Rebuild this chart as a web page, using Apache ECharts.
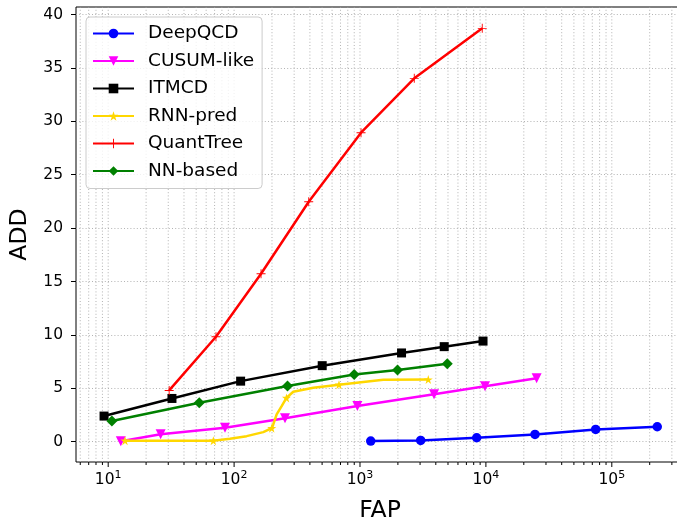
<!DOCTYPE html>
<html>
<head>
<meta charset="utf-8">
<script src="https://cdn.jsdelivr.net/npm/echarts@6/dist/echarts.min.js"></script>
<style>
  html, body { margin: 0; padding: 0; background: #fff; }
  #chart { width: 677px; height: 522px; }
</style>
</head>
<body>
<div id="chart"></div>
<script>
// values (x = FAP, y = ADD)
var deepX = [1217, 3034, 8451, 24550, 74460, 229600];
var deepY = [0.06, 0.12, 0.37, 0.68, 1.15, 1.40];

var cusumX = [12.6, 26.1, 84.7, 253.6, 953, 3873, 9840, 25300];
var cusumY = [0.05, 0.7, 1.3, 2.2, 3.35, 4.45, 5.2, 5.95];

var itmX = [9.27, 32.1, 112.7, 501, 2138, 4666, 9488];
var itmY = [2.40, 4.05, 5.67, 7.12, 8.31, 8.90, 9.42];

// RNN-pred: the line passes through unmarked points too
var rnnX = [13.6, 68.4, 92.7, 125.8, 170.6, 199, 204.8, 217.8, 238.7, 260.6, 295.1, 425.6, 681, 1531, 3486];
var rnnY = [0.1, 0.1, 0.28, 0.52, 0.9, 1.27, 1.62, 2.56, 3.33, 4.1, 4.68, 5.06, 5.34, 5.79, 5.83];
var rnnMarked = [1, 1, 0, 0, 0, 1, 0, 0, 0, 1, 0, 0, 1, 0, 1];

var quantX = [30.5, 71.8, 163.7, 391.5, 1019, 2698, 9354];
var quantY = [4.80, 9.83, 15.73, 22.47, 28.93, 34.02, 38.70];

var nnX = [10.7, 52.9, 265.5, 899, 1986, 4932];
var nnY = [1.93, 3.65, 5.21, 6.30, 6.72, 7.30];

// axis ticks
var yTicks = [0, 5, 10, 15, 20, 25, 30, 35, 40];
var xMajor = [10, 100, 1000, 10000, 100000];
var minorMult = [2, 3, 4, 5, 6, 7, 8, 9];
var xMin = 5.55, xMax = 374500;
var yMin = -1.9, yMax = 40.7;

var FONT = 'DejaVu Sans';

function pairs(xs, ys) {
    return xs.map(function (x, i) { return [x, ys[i]]; });
}

// major + minor x ticks (log axis)
var xTickData = [];
xMajor.forEach(function (v) { xTickData.push([v, 1]); });
[1, 10, 100, 1000, 10000, 100000].forEach(function (d) {
    minorMult.forEach(function (m) {
        var v = m * d;
        if (v > xMin && v < xMax) xTickData.push([v, 0]);
    });
});

var starPath = 'path://M0,-1L0.2245,-0.309L0.951,-0.309L0.363,0.118L0.588,0.809L0,0.382L-0.588,0.809L-0.363,0.118L-0.951,-0.309L-0.2245,-0.309Z';
var plusPath = 'path://M-0.1,-1H0.1V-0.1H1V0.1H0.1V1H-0.1V0.1H-1V-0.1H-0.1Z';
var downTri = 'path://M-1,-0.9L1,-0.9L0,0.9Z';

function lineSeries(name, color, data, symbol, size) {
    return {
        name: name,
        type: 'line',
        data: data,
        symbol: symbol,
        symbolSize: size,
        showSymbol: true,
        color: color,
        lineStyle: { width: 2.5, color: color },
        itemStyle: { color: color },
        z: 3,
        animation: false
    };
}

var rnnData = rnnX.map(function (x, i) {
    return rnnMarked[i] ? [x, rnnY[i]] : { value: [x, rnnY[i]], symbol: 'none' };
});

var chart = echarts.init(document.getElementById('chart'));
chart.setOption({
    backgroundColor: '#fff',
    animation: false,
    grid: {
        left: 76, right: -7, top: 7, bottom: 60,
        outerBoundsMode: 'none',
        containLabel: false,
        show: true, borderColor: '#000', borderWidth: 1,
        backgroundColor: 'transparent'
    },
    legend: {
        data: ['DeepQCD', 'CUSUM-like', 'ITMCD', 'RNN-pred', 'QuantTree', 'NN-based'],
        orient: 'vertical',
        left: 86, top: 17,
        padding: [7, 8, 8, 6],
        itemWidth: 41, itemHeight: 12, itemGap: 8.5,
        backgroundColor: 'rgba(255,255,255,0.8)',
        borderColor: '#cccccc', borderWidth: 1, borderRadius: 4,
        textStyle: { fontFamily: FONT, fontSize: 18.5, color: '#000', lineHeight: 18, padding: [0, 0, 0, 9] }
    },
    xAxis: {
        type: 'log',
        logBase: 10,
        min: xMin, max: xMax,
        name: 'FAP',
        nameLocation: 'middle',
        nameGap: 37,
        nameTextStyle: { fontFamily: FONT, fontSize: 23.5, color: '#000' },
        axisLine: { show: false },
        axisTick: { show: false },
        splitLine: { show: false },
        minorTick: { show: false },
        axisLabel: {
            margin: 8,
            color: '#000',
            fontFamily: FONT,
            fontSize: 15.5,
            formatter: function (v) {
                var e = Math.log(v) / Math.LN10;
                if (Math.abs(e - Math.round(e)) < 1e-6) return '10{s|' + Math.round(e) + '}';
                return '';
            },
            rich: {
                s: { fontFamily: FONT, fontSize: 11, color: '#000', padding: [0, 0, 8, 0] }
            }
        }
    },
    yAxis: {
        type: 'value',
        min: yMin, max: yMax,
        name: 'ADD',
        nameLocation: 'middle',
        nameGap: 32,
        nameTextStyle: { fontFamily: FONT, fontSize: 23.5, color: '#000' },
        axisLine: { show: false },
        axisTick: { show: true, length: 5, lineStyle: { color: '#000', width: 1 }, customValues: yTicks },
        axisLabel: { margin: 13, color: '#000', fontFamily: FONT, fontSize: 15.5, customValues: yTicks },
        splitLine: { show: true, lineStyle: { color: '#aaaaaa', width: 0.9, type: [1, 2.2] } }
    },
    series: [
        {
            name: 'ticks',
            type: 'custom',
            data: xTickData,
            silent: true,
            z: 1,
            clip: false,
            renderItem: function (params, api) {
                var x = api.value(0);
                var major = api.value(1);
                var b = api.coord([x, yMin]);
                var t = api.coord([x, yMax]);
                return {
                    type: 'group',
                    children: [
                        { type: 'line', shape: { x1: b[0], y1: b[1], x2: t[0], y2: t[1] },
                          style: { stroke: '#aaaaaa', lineWidth: 0.9, lineDash: [1, 2.2] } },
                        { type: 'line', shape: { x1: b[0], y1: b[1], x2: b[0], y2: b[1] + (major ? 5 : 3) },
                          style: { stroke: '#000', lineWidth: 1 } }
                    ]
                };
            }
        },
        lineSeries('DeepQCD', '#0000ff', pairs(deepX, deepY), 'circle', 9.5),
        lineSeries('CUSUM-like', '#ff00ff', pairs(cusumX, cusumY), downTri, 10),
        lineSeries('ITMCD', '#000000', pairs(itmX, itmY), 'rect', 9),
        lineSeries('RNN-pred', '#ffd700', rnnData, starPath, 9),
        lineSeries('QuantTree', '#ff0000', pairs(quantX, quantY), plusPath, 9),
        lineSeries('NN-based', '#008000', pairs(nnX, nnY), 'diamond', 11)
    ]
});
</script>
</body>
</html>
